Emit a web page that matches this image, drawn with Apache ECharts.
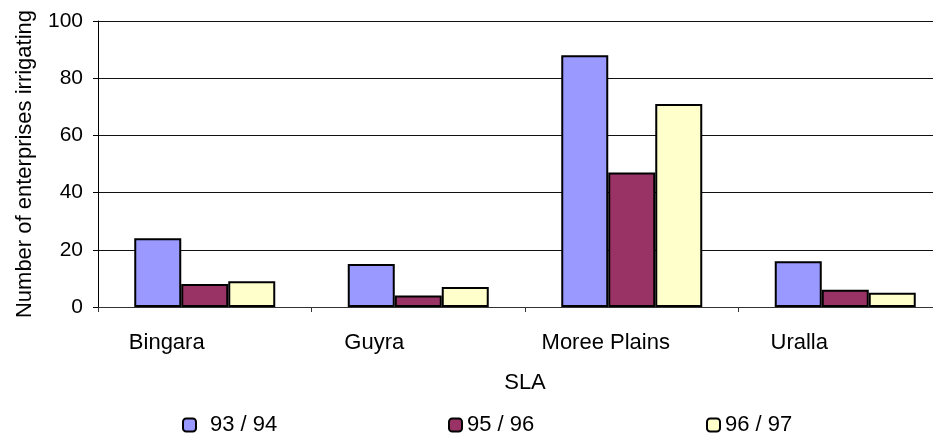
<!DOCTYPE html>
<html>
<head>
<meta charset="utf-8">
<script src="https://cdn.jsdelivr.net/npm/echarts@6/dist/echarts.min.js"></script>
<style>
  html, body { margin: 0; padding: 0; background: #fff; }
  #chart { width: 933px; height: 434px; }
</style>
</head>
<body>
<div id="chart"></div>
<script>
// Irrigating enterprises by Statistical Local Area
const categories = ['Bingara', 'Guyra', 'Moree Plains', 'Uralla'];
const seriesNames = ['93 / 94', '95 / 96', '96 / 97'];
const values9394 = [24, 15, 88, 16];
const values9596 = [8, 4, 47, 6];
const values9697 = [9, 7, 71, 5];
const yTicks = [0, 20, 40, 60, 80, 100];

const FONT = '"Liberation Sans", Arial, sans-serif';
const colors = ['#9999FF', '#993366', '#FFFFCC'];
const seriesValues = [values9394, values9596, values9697];

// Per-category label shift (right padding moves the centred text to the left)
const labelPad = [76, 88, 52, 92];
const rich = {};
categories.forEach((c, i) => {
  rich['c' + i] = { padding: [0, labelPad[i], 0, 0], fontSize: 22, fontFamily: FONT, color: '#000' };
});

const chart = echarts.init(document.getElementById('chart'));

const legendLefts = [182, 448, 706];

chart.setOption({
  animation: false,
  backgroundColor: '#fff',
  grid: { left: 98, top: 21, width: 854, height: 286, containLabel: false, outerBoundsMode: 'none' },
  xAxis: {
    type: 'category',
    data: categories,
    name: 'SLA',
    nameLocation: 'middle',
    nameGap: 65,
    nameTextStyle: { fontSize: 22, fontFamily: FONT, color: '#000', verticalAlign: 'top' },
    axisLine: { lineStyle: { color: '#333', width: 1 } },
    axisTick: { show: true, length: 5, lineStyle: { color: '#333' } },
    axisLabel: {
      margin: 25,
      formatter: (v) => '{c' + categories.indexOf(v) + '|' + v + '}',
      rich: rich
    },
    splitLine: { show: false }
  },
  yAxis: {
    type: 'value',
    min: yTicks[0],
    max: yTicks[yTicks.length - 1],
    interval: yTicks[1] - yTicks[0],
    name: 'Number of enterprises irrigating',
    nameLocation: 'middle',
    nameGap: 62,
    nameRotate: 90,
    nameTextStyle: { fontSize: 22, fontFamily: FONT, color: '#000' },
    axisLine: { show: true, lineStyle: { color: '#000', width: 1 } },
    axisTick: { show: true, length: 5, lineStyle: { color: '#000' } },
    axisLabel: { margin: 15, fontSize: 21, fontFamily: FONT, color: '#000' },
    splitLine: { show: true, lineStyle: { color: '#111', width: 1 } }
  },
  legend: seriesNames.map((n, i) => ({
    data: [n],
    left: legendLefts[i],
    top: 414,
    padding: 0,
    itemWidth: 13,
    itemHeight: 13,
    itemGap: 0,
    textStyle: {
      fontSize: 22, fontFamily: FONT, color: '#000',
      padding: i === 0 ? [0, 0, 0, 9] : [0, 0, 0, 0]
    },
    selectedMode: false
  })),
  series: seriesNames.map((n, i) => ({
    name: n,
    type: 'bar',
    data: seriesValues[i],
    barWidth: 47,
    barGap: '0%',
    itemStyle: { color: colors[i], borderColor: '#000', borderWidth: 2 }
  }))
});
</script>
</body>
</html>
